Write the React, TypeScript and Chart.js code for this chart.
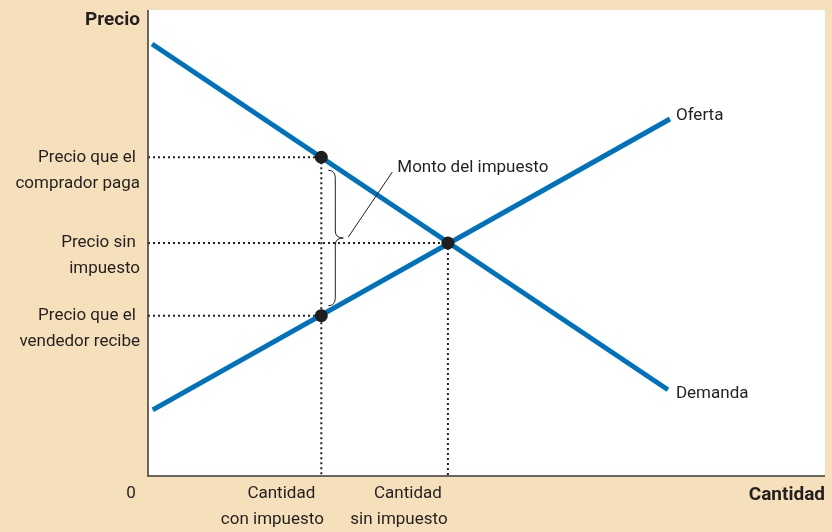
import React, { useEffect, useRef } from "react";
import { Chart, registerables } from "chart.js";

Chart.register(...registerables);

// Curve end points (quantity, price) in chart units 0..100
const demandQ = [0.6, 76.8];
const demandP = [92.7, 18.5];
const supplyQ = [0.7, 77.1];
const supplyP = [14.2, 76.6];

// Key quantities and prices
const qWithTax = 25.6;
const qNoTax = 44.3;
const pBuyer = 68.4;
const pNoTax = 50.0;
const pSeller = 34.4;

const priceTicks = [pBuyer, pNoTax, pSeller];
const priceLabels = [
  ["Precio que el ", "comprador paga"],
  ["Precio sin ", "impuesto"],
  ["Precio que el ", "vendedor recibe"],
];
const quantityTicks = [qWithTax, qNoTax];
const quantityLabels = [
  ["Cantidad", "con impuesto"],
  ["Cantidad", "sin impuesto"],
];
const curveLabels = ["Oferta", "Demanda"];
const braceLabel = "Monto del impuesto";
const axisTitles = { x: "Cantidad", y: "Precio", origin: "0" };

const BLUE = "#0071bb";
const INK = "#231f20";
const CREAM = "#f6e0bb";
const FONT = "Roboto, 'Liberation Sans', sans-serif";

export default function App() {
  const ref = useRef<HTMLCanvasElement | null>(null);

  useEffect(() => {
    document.body.style.margin = "0";
    const canvas = ref.current;
    if (!canvas) return;

    const pts = (xs: number[], ys: number[]) => xs.map((x, i) => ({ x, y: ys[i] }));
    const dotted = {
      type: "line" as const,
      borderColor: INK,
      borderWidth: 2,
      borderDash: [2, 3],
      pointRadius: 0,
      fill: false,
    };

    const decor = {
      id: "decor",
      beforeDraw(chart: any) {
        const { ctx, chartArea: a } = chart;
        ctx.save();
        ctx.fillStyle = "#ffffff";
        ctx.fillRect(a.left, a.top, a.right - a.left, a.bottom - a.top);
        ctx.restore();
      },
      afterDraw(chart: any) {
        const { ctx, chartArea: a } = chart;
        const xs = chart.scales.x;
        const ys = chart.scales.y;
        ctx.save();
        // axes
        ctx.strokeStyle = "#3a3a3a";
        ctx.lineWidth = 1.5;
        ctx.beginPath();
        ctx.moveTo(a.left, a.top);
        ctx.lineTo(a.left, a.bottom);
        ctx.lineTo(a.right, a.bottom);
        ctx.stroke();

        ctx.fillStyle = INK;
        ctx.textBaseline = "middle";
        ctx.font = `17px ${FONT}`;
        // price labels
        ctx.textAlign = "right";
        priceTicks.forEach((p, i) => {
          const y = ys.getPixelForValue(p);
          ctx.fillText(priceLabels[i][0], a.left - 8, y);
          ctx.fillText(priceLabels[i][1], a.left - 8, y + 26);
        });
        // quantity labels
        ctx.textAlign = "center";
        quantityTicks.forEach((q, i) => {
          const x = xs.getPixelForValue(q);
          ctx.fillText(quantityLabels[i][0], x - 40, a.bottom + 18);
          ctx.fillText(quantityLabels[i][1], x - 49, a.bottom + 44);
        });
        ctx.fillText(axisTitles.origin, a.left - 17, a.bottom + 18);
        // curve labels
        ctx.textAlign = "left";
        ctx.fillText(
          curveLabels[0],
          xs.getPixelForValue(supplyQ[1]) + 6,
          ys.getPixelForValue(supplyP[1]) - 3
        );
        ctx.fillText(
          curveLabels[1],
          xs.getPixelForValue(demandQ[1]) + 8,
          ys.getPixelForValue(demandP[1]) + 4
        );
        // brace
        const bx = xs.getPixelForValue(qWithTax) + 7;
        const top = ys.getPixelForValue(pBuyer) + 13;
        const bot = ys.getPixelForValue(pSeller) - 10;
        const mid = ys.getPixelForValue(pNoTax) - 5;
        ctx.strokeStyle = INK;
        ctx.lineWidth = 1;
        ctx.beginPath();
        ctx.moveTo(bx, top);
        ctx.quadraticCurveTo(bx + 7, top, bx + 7, top + 8);
        ctx.lineTo(bx + 7, mid - 7);
        ctx.quadraticCurveTo(bx + 7, mid, bx + 15, mid);
        ctx.quadraticCurveTo(bx + 7, mid, bx + 7, mid + 7);
        ctx.lineTo(bx + 7, bot - 8);
        ctx.quadraticCurveTo(bx + 7, bot, bx, bot);
        ctx.stroke();
        // leader
        ctx.beginPath();
        ctx.moveTo(bx + 20, mid - 1);
        ctx.lineTo(bx + 64, mid - 66);
        ctx.stroke();
        ctx.fillText(braceLabel, bx + 69, mid - 70);
        // titles
        ctx.font = `bold 19px ${FONT}`;
        ctx.textAlign = "right";
        ctx.fillText(axisTitles.y, a.left - 8, a.top + 10);
        ctx.fillText(axisTitles.x, a.right, a.bottom + 19);
        ctx.restore();
      },
    };

    const chart = new Chart(canvas, {
      type: "scatter",
      data: {
        datasets: [
          {
            data: [
              { x: qWithTax, y: pBuyer },
              { x: qNoTax, y: pNoTax },
              { x: qWithTax, y: pSeller },
            ],
            pointRadius: 6.5,
            pointBackgroundColor: "#1e1e1e",
            pointBorderColor: "#1e1e1e",
            pointBorderWidth: 0,
          },
          {
            type: "line",
            data: pts(demandQ, demandP),
            borderColor: BLUE,
            borderWidth: 5,
            pointRadius: 0,
            borderCapStyle: "butt",
          },
          {
            type: "line",
            data: pts(supplyQ, supplyP),
            borderColor: BLUE,
            borderWidth: 5,
            pointRadius: 0,
            borderCapStyle: "butt",
          },
          { ...dotted, data: [{ x: 0, y: pBuyer }, { x: qWithTax, y: pBuyer }] },
          { ...dotted, data: [{ x: 0, y: pNoTax }, { x: qNoTax, y: pNoTax }] },
          { ...dotted, data: [{ x: 0, y: pSeller }, { x: qWithTax, y: pSeller }] },
          { ...dotted, data: [{ x: qWithTax, y: pBuyer }, { x: qWithTax, y: 0 }] },
          { ...dotted, data: [{ x: qNoTax, y: pNoTax }, { x: qNoTax, y: 0 }] },
        ] as any,
      },
      options: {
        animation: false,
        responsive: false,
        maintainAspectRatio: false,
        layout: { padding: { left: 148, top: 10, right: 7, bottom: 56 } },
        plugins: { legend: { display: false }, tooltip: { enabled: false } },
        scales: {
          x: { type: "linear", min: 0, max: 100, display: false },
          y: { type: "linear", min: 0, max: 100, display: false },
        },
      },
      plugins: [decor],
    });
    return () => chart.destroy();
  }, []);

  return (
    <div style={{ width: 832, height: 532, background: CREAM }}>
      <canvas ref={ref} width={832} height={532} />
    </div>
  );
}
